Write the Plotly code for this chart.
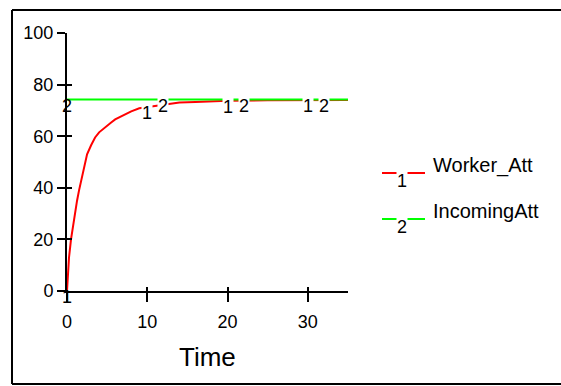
import numpy as np
import plotly.graph_objects as go

# ---- data ----
time = [0, 0.12, 0.25, 0.5, 0.75, 1.0, 1.25, 1.5, 2.0, 2.5, 3.0, 3.5, 4.0, 4.5, 5.0,
        5.5, 6.0, 7.0, 8.0, 9.0, 10, 11, 12, 13, 14, 16, 18, 20, 25, 30, 35]
worker_att = [0, 6.5, 13, 20, 25.5, 31, 35, 39, 46, 53, 56.5, 59.5, 61.5, 62.8, 64.3,
              65.3, 66.5, 68.2, 69.6, 70.8, 71.2, 71.7, 72.3, 72.7, 73.1, 73.3, 73.5,
              73.7, 73.9, 74.0, 74.0]
incoming_time = [0, 35]
incoming_att = [74.2, 74.2]

series_names = ["Worker_Att", "IncomingAtt"]
label1_times = [0, 10, 20, 30]
label2_times = [0, 12, 22, 32]
x_ticks = [0, 10, 20, 30]
y_ticks = [0, 20, 40, 60, 80, 100]

RED = "#FF0000"
GREEN = "#00FF00"
FONT = "Arial, Liberation Sans, sans-serif"

W, H = 561, 386
L, R, T, B = 67, 213, 33, 95
PW, PH = W - L - R, H - T - B


def px(x, y):
    """pixel -> paper coordinates"""
    return (x - L) / PW, (H - B - y) / PH


fig = go.Figure()
fig.add_trace(go.Scatter(x=time, y=worker_att, mode="lines",
                         line=dict(color=RED, width=2),
                         name=series_names[0], showlegend=False, hoverinfo="skip"))
fig.add_trace(go.Scatter(x=incoming_time, y=incoming_att, mode="lines",
                         line=dict(color=GREEN, width=2),
                         name=series_names[1], showlegend=False, hoverinfo="skip"))
# invisible trace for the overlay axes (inside ticks)
fig.add_trace(go.Scatter(x=[0], y=[0], xaxis="x2", yaxis="y2", mode="markers",
                         marker=dict(opacity=0), showlegend=False, hoverinfo="skip"))

ann = []
# numbered line labels
for i, t in enumerate(label1_times):
    yv = float(np.interp(t, time, worker_att))
    ann.append(dict(x=t, y=yv, xref="x", yref="y", text="1", showarrow=False,
                    yshift=-6, font=dict(family=FONT, size=18, color="black"),
                    bgcolor=None if i == 0 else "white", borderpad=0))
for i, t in enumerate(label2_times):
    yv = float(np.interp(t, incoming_time, incoming_att))
    ann.append(dict(x=t, y=yv, xref="x", yref="y", text="2", showarrow=False,
                    yshift=-6, font=dict(family=FONT, size=18, color="black"),
                    bgcolor=None if i == 0 else "white", borderpad=0))

shapes = []
# outer frame: left, top and bottom edges (right edge lies outside the window)
lx, by = px(12, 384)
rx, ty_ = px(600, 10)
for (a, b, c, d) in [(lx, by, lx, ty_), (lx, ty_, rx, ty_), (lx, by, rx, by)]:
    shapes.append(dict(type="line", xref="paper", yref="paper", x0=a, y0=b, x1=c, y1=d,
                       line=dict(color="black", width=2), layer="below"))

# manual legend
for k, (name, col, ly) in enumerate([(series_names[0], RED, 173), (series_names[1], GREEN, 219)]):
    x0, yy = px(382, ly)
    x1, _ = px(425, ly)
    shapes.append(dict(type="line", xref="paper", yref="paper", x0=x0, x1=x1, y0=yy, y1=yy,
                       line=dict(color=col, width=2)))
    nx, ny = px(402, ly + 8)
    ann.append(dict(x=nx, y=ny, xref="paper", yref="paper", text=str(k + 1), showarrow=False,
                    font=dict(family=FONT, size=18, color="black"), bgcolor="white",
                    borderpad=0, xanchor="center", yanchor="middle"))
    tx, ty = px(431, ly - 8)
    ann.append(dict(x=tx, y=ty, xref="paper", yref="paper", text=name, showarrow=False,
                    font=dict(family=FONT, size=20, color="black"),
                    xanchor="left", yanchor="middle"))

# x-axis title
ttx, tty = px(210, 357)
ann.append(dict(x=0.5, y=tty, xref="paper", yref="paper", text="Time", showarrow=False,
                font=dict(family=FONT, size=26, color="black"),
                xanchor="center", yanchor="middle"))

fig.update_layout(
    width=W, height=H,
    margin=dict(l=L, r=R, t=T, b=B, pad=0),
    paper_bgcolor="white", plot_bgcolor="white",
    showlegend=False,
    hovermode=False,
    font=dict(family=FONT, size=18, color="black"),
    xaxis=dict(range=[0, 35], tickvals=x_ticks, ticktext=[str(v) for v in x_ticks],
               showgrid=False, zeroline=False, showline=True, linecolor="black", linewidth=2,
               ticks="outside", ticklen=9, tickwidth=2, tickcolor="black",
               tickfont=dict(family=FONT, size=18), ticklabelstandoff=4),
    yaxis=dict(range=[0, 100], tickvals=y_ticks, ticktext=[str(v) for v in y_ticks],
               showgrid=False, zeroline=False, showline=True, linecolor="black", linewidth=2,
               ticks="outside", ticklen=8, tickwidth=2, tickcolor="black",
               tickfont=dict(family=FONT, size=18)),
    xaxis2=dict(range=[0, 35], tickvals=x_ticks, overlaying="x", anchor="y2", side="bottom",
                showticklabels=False, showgrid=False, zeroline=False, showline=False,
                ticks="inside", ticklen=4, tickwidth=2, tickcolor="black"),
    yaxis2=dict(range=[0, 100], tickvals=y_ticks, overlaying="y", anchor="x2", side="left",
                showticklabels=False, showgrid=False, zeroline=False, showline=False,
                ticks="inside", ticklen=5, tickwidth=2, tickcolor="black"),
    annotations=ann,
    shapes=shapes,
)

fig.write_html("out.html", config={"displayModeBar": False, "staticPlot": True},
               post_script="document.body.style.margin='0';document.body.style.overflow='hidden';")
